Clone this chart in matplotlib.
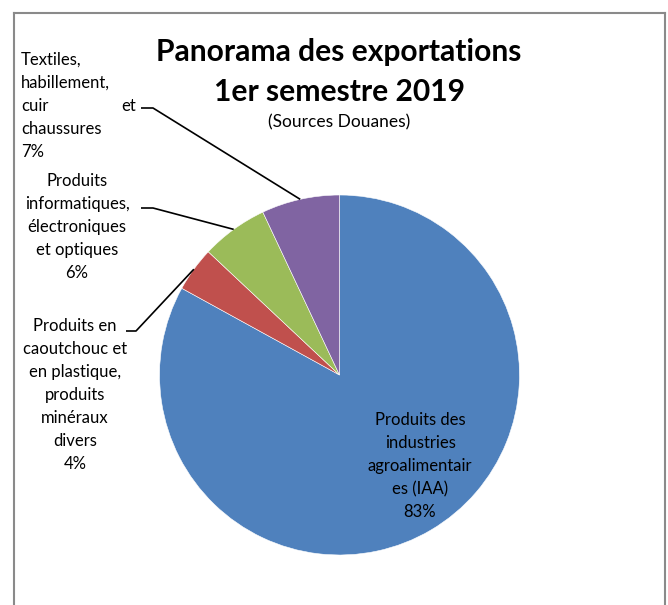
import matplotlib.pyplot as plt
from matplotlib.lines import Line2D
import numpy as np

plt.rcParams["font.family"] = ["Lato", "DejaVu Sans"]

# slices, clockwise from 12 o'clock
labels = [
    "Produits des\nindustries\nagroalimentair\nes (IAA)",
    "Produits en\ncaoutchouc et\nen plastique,\nproduits\nminéraux\ndivers",
    "Produits\ninformatiques,\nélectroniques\net optiques",
    "Textiles,\nhabillement,\ncuir\nchaussures",
]
shares = [83, 4, 6, 7]
colors = ["#4f81bd", "#c0504d", "#9bbb59", "#8064a2"]

W, H = 668, 605
fig = plt.figure(figsize=(W / 100, H / 100), dpi=100)
ax = fig.add_axes([0, 0, 1, 1])

cx, cy, R = 339.5, H - 375, 180
wedges, _ = ax.pie(shares, colors=colors, startangle=90, counterclock=False,
                   center=(cx, cy), radius=R, frame=True,
                   wedgeprops={"edgecolor": "white", "linewidth": 0.4})
ax.set_xlim(0, W)
ax.set_ylim(0, H)
ax.set_axis_off()


def Y(y):
    return H - y


def rim(w):
    a = np.deg2rad((w.theta1 + w.theta2) / 2)
    return cx + R * np.cos(a), cy + R * np.sin(a)


fs = 12
ls = 1.54

# title
ax.text(339, Y(52), "Panorama des exportations", ha="center", va="center",
        fontsize=21.6, fontweight="bold")
ax.text(339, Y(92), "1er semestre 2019", ha="center", va="center",
        fontsize=21.6, fontweight="bold")
ax.text(339, Y(122), "(Sources Douanes)", ha="center", va="center", fontsize=12.5)

# inside label for the big slice
ax.text(420, Y(466), f"{labels[0]}\n{shares[0]}%", ha="center", va="center",
        fontsize=fs, linespacing=ls)

# red slice label
ax.text(75, Y(395), f"{labels[1]}\n{shares[1]}%", ha="center", va="center",
        fontsize=fs, linespacing=ls)
# green slice label
ax.text(77, Y(227), f"{labels[2]}\n{shares[2]}%", ha="center", va="center",
        fontsize=fs, linespacing=ls)
# purple slice label (justified "cuir ... et")
ax.text(21, Y(106), f"{labels[3]}\n{shares[3]}%", ha="left", va="center",
        fontsize=fs, linespacing=ls)
ax.text(136, Y(106), "et", ha="right", va="center", fontsize=fs)

# leader lines: label anchor -> short horizontal -> slice rim
anchors = {1: (126, 136, 331), 2: (141, 153, 208), 3: (141, 153, 108)}
for i, (x0, x1, y) in anchors.items():
    ex, ey = rim(wedges[i])
    ax.plot([x0, x1, ex], [Y(y), Y(y), ey], color="black", lw=1.2,
            solid_capstyle="butt")

# chart frame (open at the bottom edge of the crop)
fc = "#8a8a8a"
fig.add_artist(Line2D([14 / W, 14 / W], [0, 1 - 13 / H], color=fc, lw=1.5))
fig.add_artist(Line2D([665 / W, 665 / W], [0, 1 - 13 / H], color=fc, lw=1.5))
fig.add_artist(Line2D([14 / W, 665 / W], [1 - 13 / H, 1 - 13 / H], color=fc, lw=1.5))

fig.savefig("out.png", dpi=100)
